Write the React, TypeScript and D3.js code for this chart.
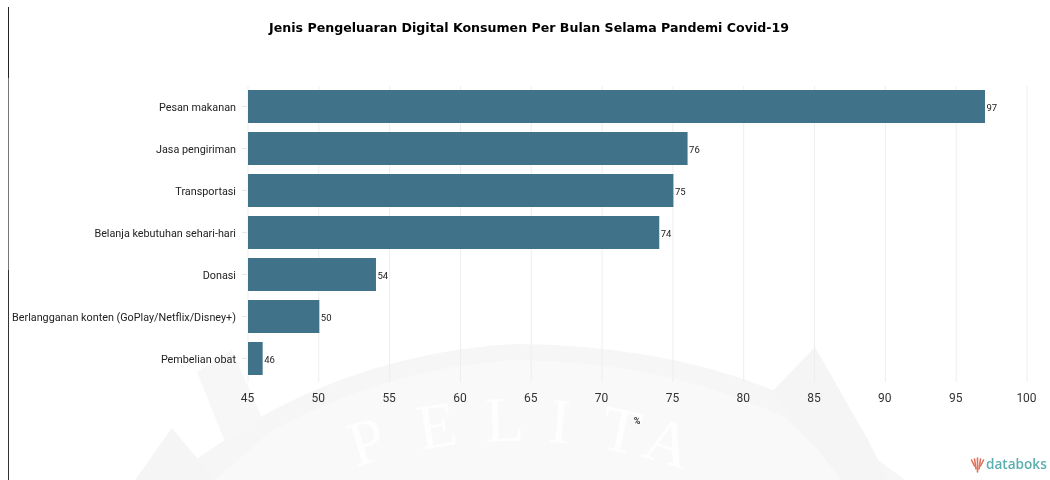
import React from "react";
import * as d3 from "d3";

const categories = ["Pesan makanan", "Jasa pengiriman", "Transportasi", "Belanja kebutuhan sehari-hari", "Donasi", "Berlangganan konten (GoPlay/Netflix/Disney+)", "Pembelian obat"];
const values = [97, 76, 75, 74, 54, 50, 46];
const ticks = [45, 50, 55, 60, 65, 70, 75, 80, 85, 90, 95, 100];
const title = "Jenis Pengeluaran Digital Konsumen Per Bulan Selama Pandemi Covid-19";
const unit = "%";
const brand = "databoks";
const watermarkLetters = ["P", "E", "L", "I", "T", "A"];
const watermarkCentres = [373, 440, 505, 558, 617, 662];
const logoSticks = [-2, -1, 0, 1, 2];

const x = d3.scaleLinear().domain([45, 100]).range([248, 1027]);
const y = d3.scaleBand<string>().domain(categories).range([85.5, 379.5]).paddingInner(9 / 42).paddingOuter(9 / 84);
const font = "Roboto, sans-serif";

export default function App() {
  return (
    <svg width={1050} height={480} style={{ position: "absolute", left: 0, top: 0, background: "#fff" }}>
      <defs>
        <filter id="soft" x="-2%" y="-2%" width="104%" height="104%">
          <feGaussianBlur stdDeviation="0.22" />
        </filter>
      </defs>
      <g>
        <path d="M 165 480 L 255 420 Q 375 352 515 344 Q 680 345 800 402 L 905 480 Z" fill="#f6f6f6" />
        <path d="M 215 480 L 270 432 Q 385 368 515 360 Q 670 362 785 418 L 850 480 Z" fill="#f9f9f9" />
        <path d="M 135 480 L 172 428 L 215 480 Z" fill="#f5f5f5" />
        <path d="M 197 372 L 232 350 L 262 418 L 225 442 Z" fill="#f7f7f7" />
        <path d="M 772 392 L 815 347 L 868 440 L 888 480 L 842 480 Z" fill="#f5f5f5" />
        {watermarkLetters.map((l, i) => {
          const a = Math.asin((watermarkCentres[i] - 516) / 500);
          const by = 941 - 500 * Math.cos(a);
          return (
            <text key={l} transform={`translate(${watermarkCentres[i]},${by}) rotate(${(a * 180) / Math.PI})`} textAnchor="middle" fontFamily="'Liberation Serif', serif" fontSize={64} fill="#fefefe">{l}</text>
          );
        })}
      </g>
      <line x1={8.5} x2={8.5} y1={7} y2={480} stroke="#777" strokeWidth={1} />
      <line x1={8.5} x2={8.5} y1={7} y2={78} stroke="#222" strokeWidth={1} />
      <line x1={8.5} x2={8.5} y1={270} y2={480} stroke="#333" strokeWidth={1} />
      <g filter="url(#soft)">
        <text x={529} y={32} textAnchor="middle" fontFamily="'DejaVu Sans', sans-serif" fontWeight={700} fontSize={12.6} fill="#000">{title}</text>
        {ticks.map((t) => (
          <g key={t}>
            <line x1={x(t)} x2={x(t)} y1={86} y2={382} stroke="#eeeeee" strokeWidth={1} />
            <text x={x(t) - 0.5} y={402} textAnchor="middle" fontFamily={font} fontSize={12} fill="#333">{t}</text>
          </g>
        ))}
        {categories.map((c, i) => {
          const by = y(c)!;
          const cy = by + y.bandwidth() / 2;
          return (
            <g key={c}>
              <line x1={242} x2={247} y1={cy} y2={cy} stroke="#e6e6e6" />
              <text x={236} y={cy + 4} textAnchor="end" fontFamily={font} fontSize={10.8} fill="#222">{c}</text>
              <rect x={x(45)} y={by} width={x(values[i]) - x(45) + 0.5} height={y.bandwidth()} fill="#41738a" />
              <text x={x(values[i]) + 2} y={cy + 4} fontFamily={font} fontSize={9.5} fill="#222">{values[i]}</text>
            </g>
          );
        })}
        <text x={637} y={424} textAnchor="middle" fontFamily={font} fontWeight={700} fontSize={9} fill="#333">{unit}</text>
        <g stroke="#e0705a" strokeWidth={1.6} strokeLinecap="round">
          {logoSticks.map((k) => (
            <line key={k} x1={977.5 + k * 3} x2={977.5 + k * 1.5} y1={458 + Math.abs(k)} y2={472 - Math.abs(k) * 3} />
          ))}
        </g>
        <text x={986} y={469} fontFamily="'Open Sans', sans-serif" fontWeight={600} fontSize={13.6} fill="#5aaeb0">{brand}</text>
      </g>
    </svg>
  );
}
